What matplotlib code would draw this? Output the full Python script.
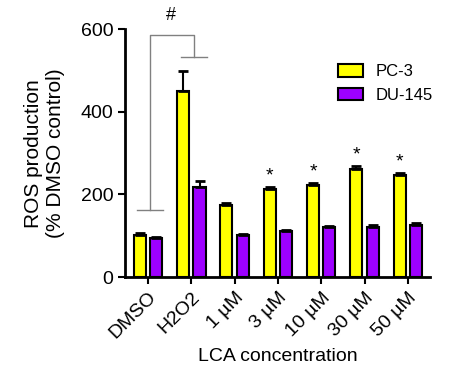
import numpy as np
import matplotlib.pyplot as plt

plt.rcParams['font.family'] = ['Liberation Sans', 'DejaVu Sans']

# datos
grupos = ['DMSO', 'H2O2', '1 µM', '3 µM', '10 µM', '30 µM', '50 µM']
pc3 = [102, 450, 174, 213, 222, 262, 246]
pc3_err = [6, 48, 6, 6, 6, 7, 5]
du145 = [95, 217, 102, 112, 121, 122, 127]
du145_err = [3, 16, 3, 3, 3, 3, 3]
estrellas = [3, 4, 5, 6]

x = np.arange(len(grupos))
ancho = 0.28
desp = 0.19

fig = plt.figure(figsize=(4.53, 3.74), dpi=100)
ax = fig.add_axes([0.276, 0.259, 0.673, 0.663])

err_kw = dict(ecolor='black', elinewidth=1.5, capsize=3.5, capthick=2)
ax.bar(x - desp, pc3, ancho, color='#FFFF00', edgecolor='black', linewidth=1.5,
       yerr=[np.zeros(len(pc3)), pc3_err], error_kw=err_kw, label='PC-3', zorder=2)
ax.bar(x + desp, du145, ancho, color='#9D00FF', edgecolor='black', linewidth=1.5,
       yerr=[np.zeros(len(du145)), du145_err], error_kw=err_kw, label='DU-145', zorder=2)

# asteriscos
for i in estrellas:
    ax.text(x[i] - desp, pc3[i] + pc3_err[i] + 6, '*', ha='center', va='bottom', fontsize=14)

# corchete de significancia
gris = '#808080'
ax.plot([0.05, 0.05, 1.06, 1.06], [162, 585, 585, 532], color=gris, lw=1, clip_on=False)
ax.plot([-0.25, 0.35], [162, 162], color=gris, lw=1, clip_on=False)
ax.plot([0.76, 1.36], [532, 532], color=gris, lw=1, clip_on=False)
ax.text(0.53, 612, '#', ha='center', va='bottom', fontsize=13, clip_on=False)

ax.set_xlim(-0.53, 6.51)
ax.set_ylim(0, 600)
ax.set_yticks([0, 200, 400, 600])
ax.set_xticks(x)
ax.set_xticklabels(grupos, rotation=45, ha='right', rotation_mode='anchor')
ax.tick_params(axis='both', labelsize=14, width=1.5, length=5)
ax.spines['top'].set_visible(False)
ax.spines['right'].set_visible(False)
ax.spines['left'].set_linewidth(2)
ax.spines['bottom'].set_linewidth(2)

ax.set_ylabel('ROS production\n(% DMSO control)', fontsize=15, labelpad=11)
ax.set_xlabel('LCA concentration', fontsize=14)

leg = ax.legend(loc='upper right', bbox_to_anchor=(1.06, 0.92), frameon=False, fontsize=12,
                handlelength=1.5, handleheight=0.8)

fig.savefig('out.png', dpi=100)
